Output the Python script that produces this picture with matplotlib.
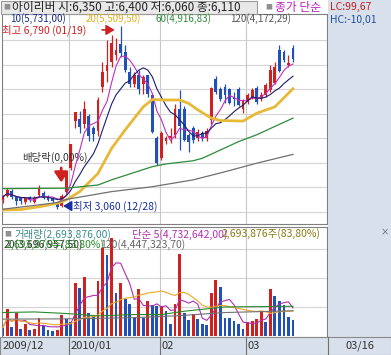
import matplotlib
matplotlib.use("Agg")
import matplotlib.pyplot as plt
from matplotlib.patches import Rectangle
import pandas as pd

plt.rcParams["font.family"] = ["Noto Sans CJK KR", "DejaVu Sans"]

# ---- data ----
opens = [3240, 3320, 3420, 3300, 3280, 3190, 3300, 3200, 3340, 3390, 3310, 3270, 3200, 3120, 3400,
         3900, 4850, 4900, 4800, 4950, 4700, 4650, 5550, 5880, 6050, 6200, 6420, 6250, 5850, 5600,
         5800, 5600, 5780, 5380, 4500,
         4100, 4450, 4500, 4570, 5100, 5100, 4560, 4700, 4500, 4600, 4500, 4870, 5700, 5500, 5550,
         5500, 5350, 5500, 5100,
         5245, 5320, 5520, 5315, 5380, 5484, 5620, 6300, 6265, 5995, 6350]
highs = [3340, 3480, 3460, 3330, 3300, 3300, 3330, 3320, 3545, 3420, 3340, 3290, 3220, 3360, 3815,
         4385, 5040, 5050, 5250, 5000, 4750, 5350, 6060, 6500, 6600, 6550, 6790, 6400, 5950, 5850,
         5900, 5800, 5800, 5400, 4550,
         4650, 4550, 4700, 5200, 5480, 5150, 4600, 4750, 4680, 4650, 4700, 5550, 5770, 5550, 5600,
         5520, 5450, 5550, 5300,
         5420, 5520, 5560, 5450, 5620, 5990, 6050, 6400, 6300, 6200, 6400]
lows = [3170, 3290, 3250, 3140, 3160, 3150, 3200, 3170, 3300, 3250, 3220, 3180, 3060, 3100, 3380,
        3850, 4700, 4600, 4700, 4450, 4450, 4550, 5450, 5650, 5950, 6100, 6150, 5850, 5550, 5550,
        5400, 5400, 5350, 4600, 3950,
        4050, 4380, 4400, 4500, 4260, 4450, 4225, 4400, 4450, 4450, 4450, 4800, 5400, 5250, 5220,
        5200, 5150, 5150, 5015,
        5200, 5300, 5200, 5250, 5350, 5450, 5600, 5850, 6050, 5950, 6060]
closes = [3300, 3440, 3290, 3210, 3210, 3270, 3230, 3280, 3490, 3280, 3240, 3210, 3090, 3320, 3815,
          4385, 5040, 4720, 5100, 4550, 4580, 5270, 5850, 6000, 6450, 6300, 6230, 5900, 5600, 5780,
          5500, 5750, 5400, 4620, 4000,
          4600, 4500, 4550, 5100, 4750, 4470, 4430, 4460, 4630, 4500, 4650, 5520, 5450, 5300, 5380,
          5220, 5300, 5180, 5250,
          5380, 5480, 5245, 5380, 5585, 5900, 5950, 5880, 6096, 6030, 6110]
volumes_k = [1345, 4570, 1520, 3930, 1120, 1980, 1000, 1100, 3130, 1640, 900, 830, 950, 3530, 2840,
             2330, 9170, 8190, 10260, 3880, 3310, 9400, 15310, 14050, 17030, 7380, 9170, 6340, 5430,
             3240, 8070, 3070, 6070, 5260, 5090,
             5200, 4340, 1980, 5550, 14170, 3830, 2670, 3760, 2900, 1980, 1860, 7330, 9740, 8360,
             3020, 2960, 2550, 1930, 1170,
             2380, 2500, 2900, 4220, 2380, 8070, 6810, 6000, 5260, 3215, 2694]

# long moving averages (bar index, value)
ma20_bar = [0, 4, 8, 12, 14, 17, 21, 24, 27, 31, 33, 36, 39, 41, 43, 46, 48, 53, 56, 60, 64]
ma20_val = [3035, 3045, 3100, 3170, 3240, 3410, 3780, 4290, 4670, 5140, 5290, 5280, 5280, 5210,
            5080, 4910, 4860, 4850, 5010, 5140, 5510]
ma60_bar = [0, 14, 21, 24, 33, 36, 42, 44, 52, 56, 64]
ma60_val = [3470, 3480, 3545, 3650, 3920, 3975, 4040, 4090, 4430, 4570, 4910]
ma120_bar = [0, 12, 14, 24, 33, 42, 49, 56, 64]
ma120_val = [3050, 3185, 3250, 3410, 3510, 3650, 3815, 3990, 4170]
vma60_bar = [0, 7, 14, 21, 29, 35, 40, 49, 64]
vma60_val = [4000, 4100, 3830, 3410, 3650, 3650, 4220, 4970, 5090]
vma120_bar = [0, 14, 29, 40, 49, 64]
vma120_val = [2850, 2900, 3100, 3500, 4000, 4300]

month_start = [0, 15, 35, 54]
month_labels = ["2009/12", "2010/01", "02", "03"]
last_date = "03/16"

W, H = 391, 355
RED, BLUE = "#d02020", "#2050b8"
FS = 7.5

fig = plt.figure(figsize=(W / 100, H / 100), dpi=100)
fig.patch.set_facecolor("white")


def rect(x0, y0, x1, y1):
    return [x0 / W, 1 - y1 / H, (x1 - x0) / W, (y1 - y0) / H]


def fp(x, y):
    return x / W, 1 - y / H


# backgrounds: right scale panel, bottom date band, header box
fig.patches.append(Rectangle(fp(328, 355), 63 / W, 355 / H, transform=fig.transFigure,
                             facecolor="#d8e0ec", edgecolor="none", zorder=0))
fig.patches.append(Rectangle(fp(0, 355), 1, 18 / H, transform=fig.transFigure,
                             facecolor="#d8e0ec", edgecolor="#8a8a8a", lw=0.8, zorder=0))
fig.patches.append(Rectangle(fp(1, 14), 256 / W, 13 / H, transform=fig.transFigure,
                             facecolor="#e8e8e8", edgecolor="#9a9a9a", lw=0.8, zorder=0))

n = len(closes)
xs = list(range(n))
xlim = (-0.15, 71.5)
bounds = [m - 0.4 for m in month_start[1:]]

# ---- price panel ----
ax = fig.add_axes(rect(2, 14, 327, 224))
ax.set_xlim(*xlim)
ax.set_ylim(2749, 7035)
for v in range(3000, 7000, 500):
    ax.axhline(v, color="#d4d4d4", lw=0.8, zorder=0)
for b in bounds:
    ax.axvline(b, color="#c8c8c8", lw=0.8, zorder=0)

cols = [RED if c >= o else BLUE for o, c in zip(opens, closes)]
ax.vlines(xs, lows, highs, colors=cols, lw=0.9, zorder=2)
bottoms = [min(o, c) for o, c in zip(opens, closes)]
heights = [max(abs(c - o), 15) for o, c in zip(opens, closes)]
ax.bar(xs, heights, bottom=bottoms, width=0.62, color=cols, zorder=3)

cl = pd.Series(closes)
ax.plot(xs, cl.rolling(5, min_periods=1).mean(), color="#c030c0", lw=0.8, zorder=4)
ax.plot(xs, cl.rolling(10, min_periods=1).mean(), color="#1c1c70", lw=0.8, zorder=4)
ax.plot(ma20_bar, ma20_val, color="#e8b838", lw=2.0, zorder=4)
ax.plot(ma60_bar, ma60_val, color="#2e8b3a", lw=0.9, zorder=4)
ax.plot(ma120_bar, ma120_val, color="#707070", lw=0.9, zorder=4)

ax.yaxis.tick_right()
yt = [3000, 3500, 4000, 4500, 5000, 5500, 6500]
ax.set_yticks(yt)
ax.set_yticklabels([f"{v:,}" for v in yt])
ax.tick_params(axis="y", length=3, pad=1.5, labelsize=FS, colors="#333333")
ax.set_xticks([])
for s in ax.spines.values():
    s.set_color("#808080")
    s.set_linewidth(0.8)

# last price box spanning the scale panel
ax.add_patch(Rectangle((1.012, closes[-1] - 150), 0.19, 300, transform=ax.get_yaxis_transform(),
                       facecolor="#e02020", edgecolor="none", clip_on=False, zorder=5))
ax.text(1.03, closes[-1], f"{closes[-1]:,}", transform=ax.get_yaxis_transform(),
        ha="left", va="center", fontsize=FS, color="white", zorder=6)
chg = (closes[-1] / closes[-2] - 1) * 100
ax.text(1.03, closes[-1] - 290, f"{chg:.2f}%".replace(".", ","), transform=ax.get_yaxis_transform(),
        ha="left", va="center", fontsize=FS, color="#e02020")

# annotations
ax.text(-0.1, 6700, "최고 6,790 (01/19)", color=RED, fontsize=FS, ha="left", va="center")
ax.annotate("", xy=(25.3, 6710), xytext=(21.3, 6710),
            arrowprops=dict(arrowstyle="-|>,head_width=0.3,head_length=0.5", color=RED, lw=1.2))
ax.text(4.2, 4116, "배당락(0,00%)", color="#333333", fontsize=FS, ha="left", va="center")
ax.annotate("", xy=(12.9, 3540), xytext=(12.9, 3950),
            arrowprops=dict(arrowstyle="-|>,head_width=0.4,head_length=0.6", color=RED, lw=2))
ax.annotate("", xy=(12.7, 3116), xytext=(15.3, 3116),
            arrowprops=dict(arrowstyle="-|>,head_width=0.3,head_length=0.5", color="#1830a0", lw=1.2))
ax.text(15.4, 3116, "최저 3,060 (12/28)", color="#1830a0", fontsize=FS, ha="left", va="center")

# ---- volume panel ----
vx = fig.add_axes(rect(2, 227, 327, 337))
vx.set_xlim(*xlim)
vx.set_ylim(-259, 18879)
for v in (5000, 10000, 15000):
    vx.axhline(v, color="#d4d4d4", lw=0.8, zorder=0)
for b in bounds:
    vx.axvline(b, color="#c8c8c8", lw=0.8, zorder=0)
vcols = [RED if i > 0 and volumes_k[i] >= volumes_k[i - 1] else BLUE for i in range(n)]
vx.bar(xs, volumes_k, width=0.62, color=vcols, zorder=2)
vs = pd.Series(volumes_k)
vx.plot(xs, vs.rolling(5, min_periods=1).mean(), color="#b030b0", lw=0.8, zorder=3)
vx.plot(xs, vs.rolling(20, min_periods=1).mean(), color="#e8a828", lw=0.8, zorder=3)
vx.plot(vma60_bar, vma60_val, color="#2a8a2a", lw=0.8, zorder=3)
vx.plot(vma120_bar, vma120_val, color="#707070", lw=0.8, zorder=3)
vx.yaxis.tick_right()
vt = [5000, 10000, 15000]
vx.set_yticks(vt)
vx.set_yticklabels([f"{v:,}K" for v in vt])
vx.tick_params(axis="y", length=3, pad=1.5, labelsize=FS, colors="#333333")
vx.set_xticks([])
for s in vx.spines.values():
    s.set_color("#808080")
    s.set_linewidth(0.8)

# ---- header and legends ----
fig.text(*fp(3, 7), "■", color="#909090", fontsize=5, va="center")
fig.text(*fp(12, 7), "아이리버 시:6,350 고:6,400 저:6,060 종:6,110", color="#222222",
         fontsize=8.5, va="center")
fig.text(*fp(265, 7), "■", color="#909090", fontsize=5, va="center")
fig.text(*fp(275, 7), "종가 단순", color="#c020c0", fontsize=8.5, va="center")
fig.text(*fp(330, 7), "LC:99,67", color="#c02020", fontsize=FS, va="center")
fig.text(*fp(330, 20), "HC:-10,01", color="#2050a0", fontsize=FS, va="center")

fig.text(*fp(10, 18.5), "10(5,731,00)", color="#1c2c90", fontsize=7, va="center")
fig.text(*fp(86, 18.5), "20(5,509,50)", color="#e0b020", fontsize=7, va="center")
fig.text(*fp(155, 18.5), "60(4,916,83)", color="#2e8b3a", fontsize=7, va="center")
fig.text(*fp(230, 18.5), "120(4,172,29)", color="#555555", fontsize=7, va="center")

fig.text(*fp(4, 234), "■", color="#909090", fontsize=5, va="center")
fig.text(*fp(14, 234), "거래량(2,693,876,00)", color="#3a8c8c", fontsize=FS, va="center")
fig.text(*fp(132, 234), "단순 5(4,732,642,00)", color="#b030b0", fontsize=FS, va="center")
fig.text(*fp(222, 234), "2,693,876주(83,80%)", color="#8a7a10", fontsize=FS, va="center")
fig.text(*fp(4, 245), "20(3,696,957,50)", color="#333333", fontsize=FS, va="center")
fig.text(*fp(6, 245), "2,693,876주(83,80%)", color="#2a8a2a", fontsize=FS, va="center")
fig.text(*fp(100, 245), "120(4,447,323,70)", color="#666666", fontsize=FS, va="center")
fig.text(*fp(385, 232), "×", color="#555555", fontsize=6, va="center", ha="center")

# ---- date band ----
for m, lab in zip(month_start, month_labels):
    bx = 2.7 + 4.536 * (m - 0.4) if m else 1
    fig.text(*fp(bx + 1.5, 346), lab, color="#333333", fontsize=8, va="center")
    if m:
        fig.add_artist(plt.Line2D([bx / W, bx / W], [0, 18 / H], color="#707070", lw=0.8))
fig.add_artist(plt.Line2D([328 / W, 328 / W], [0, 18 / H], color="#707070", lw=0.8))
fig.text(*fp(345, 346), last_date, color="#333333", fontsize=8, va="center")

fig.savefig("out.png", dpi=100)
